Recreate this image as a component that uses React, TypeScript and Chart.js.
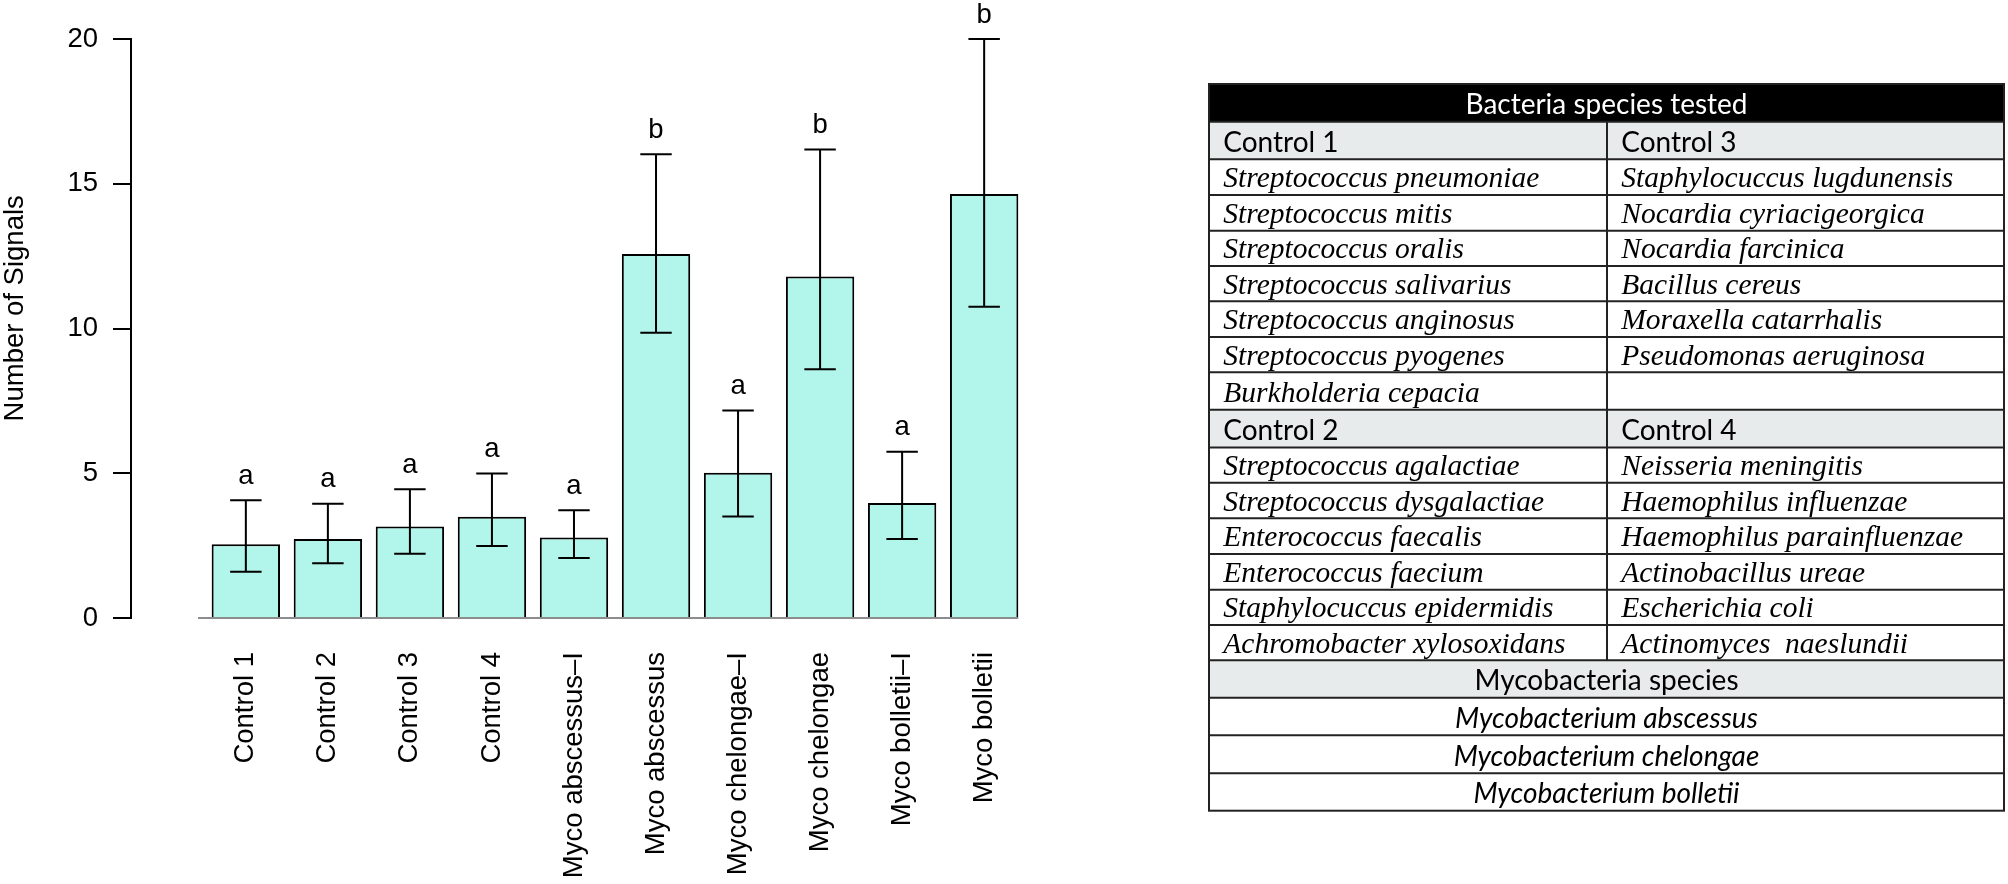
import React, { useEffect, useRef } from "react";
import { Chart, registerables } from "chart.js";

Chart.register(...registerables);

// ---------------- chart data ----------------
const categories = [
  "Control 1",
  "Control 2",
  "Control 3",
  "Control 4",
  "Myco abscessus–I",
  "Myco abscessus",
  "Myco chelongae–I",
  "Myco chelongae",
  "Myco bolletii–I",
  "Myco bolletii",
];
const meanSignals = [2.55, 2.73, 3.16, 3.5, 2.78, 12.57, 5.02, 11.8, 3.97, 14.65];
const errorLow = [1.6, 1.89, 2.22, 2.49, 2.07, 9.85, 3.51, 8.59, 2.73, 10.75];
const errorHigh = [4.07, 3.95, 4.45, 4.99, 3.72, 16.02, 7.17, 16.18, 5.74, 20.0];
const groupLetters = ["a", "a", "a", "a", "a", "b", "a", "b", "a", "b"];
const yTickValues = [0, 5, 10, 15, 20];
const yAxisTitle = "Number of Signals";

// ---------------- table data ----------------
const tableTitle = "Bacteria species tested";
const groupHeadsA = ["Control 1", "Control 3"];
const control1Species = [
  "Streptococcus pneumoniae",
  "Streptococcus mitis",
  "Streptococcus oralis",
  "Streptococcus salivarius",
  "Streptococcus anginosus",
  "Streptococcus pyogenes",
  "Burkholderia cepacia",
];
const control3Species = [
  "Staphylocuccus lugdunensis",
  "Nocardia cyriacigeorgica",
  "Nocardia farcinica",
  "Bacillus cereus",
  "Moraxella catarrhalis",
  "Pseudomonas aeruginosa",
  "",
];
const groupHeadsB = ["Control 2", "Control 4"];
const control2Species = [
  "Streptococcus agalactiae",
  "Streptococcus dysgalactiae",
  "Enterococcus faecalis",
  "Enterococcus faecium",
  "Staphylocuccus epidermidis",
  "Achromobacter xylosoxidans",
];
const control4Species = [
  "Neisseria meningitis",
  "Haemophilus influenzae",
  "Haemophilus parainfluenzae",
  "Actinobacillus ureae",
  "Escherichia coli",
  "Actinomyces  naeslundii",
];
const mycoHeader = "Mycobacteria species";
const mycoSpecies = [
  "Mycobacterium abscessus",
  "Mycobacterium chelongae",
  "Mycobacterium bolletii",
];

// ---------------- styling / layout ----------------
const FONT = '"Liberation Sans", Arial, Helvetica, sans-serif';
const FONT_SIZE = 27.5;
const BAR_FILL = "#b2f5eb";
const CANVAS_W = 1110;
const CANVAS_H = 884;

// R barplot geometry: bars of width 1 separated by space 0.2
const barCenters = categories.map((_, i) => 0.7 + 1.2 * i);
const X_MIN = -0.272;
const X_MAX = 12.472;

const annotatePlugin = {
  id: "annotate",
  afterDatasetsDraw(chart: any) {
    const { ctx } = chart;
    const x = chart.scales.x;
    const y = chart.scales.y;
    ctx.save();
    // baseline under the bars
    const y0 = y.getPixelForValue(0);
    ctx.strokeStyle = "#8c8c8c";
    ctx.lineWidth = 2;
    ctx.beginPath();
    ctx.moveTo(x.getPixelForValue(0), y0);
    ctx.lineTo(x.getPixelForValue(12), y0);
    ctx.stroke();
    // error bars + letters
    ctx.strokeStyle = "#000";
    ctx.fillStyle = "#000";
    ctx.lineWidth = 2;
    ctx.font = `${FONT_SIZE}px ${FONT}`;
    ctx.textAlign = "center";
    ctx.textBaseline = "alphabetic";
    barCenters.forEach((c, i) => {
      const px = x.getPixelForValue(c);
      const half = x.getPixelForValue(c + 0.23) - px;
      const top = y.getPixelForValue(errorHigh[i]);
      const bot = y.getPixelForValue(errorLow[i]);
      ctx.beginPath();
      ctx.moveTo(px, top);
      ctx.lineTo(px, bot);
      ctx.moveTo(px - half, top);
      ctx.lineTo(px + half, top);
      ctx.moveTo(px - half, bot);
      ctx.lineTo(px + half, bot);
      ctx.stroke();
      ctx.fillText(groupLetters[i], px, top - 16.5);
    });
    ctx.restore();
  },
  afterDraw(chart: any) {
    const { ctx } = chart;
    ctx.save();
    ctx.translate(23.3, 308.3);
    ctx.rotate(-Math.PI / 2);
    ctx.font = `${FONT_SIZE}px ${FONT}`;
    ctx.fillStyle = "#000";
    ctx.textAlign = "center";
    ctx.textBaseline = "alphabetic";
    ctx.fillText(yAxisTitle, 0, 0);
    ctx.restore();
  },
};

function BarChart() {
  const ref = useRef<HTMLCanvasElement | null>(null);
  useEffect(() => {
    if (!ref.current) return;
    const chart = new Chart(ref.current, {
      type: "bar",
      data: {
        datasets: [
          {
            data: barCenters.map((c, i) => ({ x: c, y: meanSignals[i] })),
            backgroundColor: BAR_FILL,
            borderColor: "#000",
            borderWidth: 2,
            borderSkipped: "start",
            categoryPercentage: 1,
            barPercentage: 1 / 1.2,
          } as any,
        ],
      },
      options: {
        responsive: false,
        animation: false,
        events: [],
        layout: { padding: { top: 39, right: CANVAS_W - 1099, bottom: 0, left: 0 } },
        plugins: { legend: { display: false }, tooltip: { enabled: false }, title: { display: false } },
        scales: {
          x: {
            type: "linear",
            min: X_MIN,
            max: X_MAX,
            afterBuildTicks: (s: any) => {
              s.ticks = barCenters.map((v) => ({ value: v }));
            },
            afterFit: (s: any) => {
              s.height = CANVAS_H - 618;
            },
            ticks: {
              autoSkip: false,
              minRotation: 90,
              maxRotation: 90,
              padding: 34,
              color: "#000",
              font: { family: FONT, size: FONT_SIZE },
              callback: (_v: any, i: number) => categories[i],
            },
            grid: { display: false, drawTicks: false },
            border: { display: false },
          },
          y: {
            min: 0,
            max: 20,
            afterBuildTicks: (s: any) => {
              s.ticks = yTickValues.map((v) => ({ value: v }));
            },
            afterFit: (s: any) => {
              s.width = 131;
            },
            ticks: {
              padding: 15,
              color: "#000",
              font: { family: FONT, size: FONT_SIZE },
            },
            grid: {
              drawOnChartArea: false,
              drawTicks: true,
              tickLength: 18,
              color: "#000",
              lineWidth: 2,
            },
            border: { display: true, color: "#000", width: 2 },
          },
        },
      } as any,
      plugins: [annotatePlugin],
    });
    return () => chart.destroy();
  }, []);
  return (
    <canvas
      ref={ref}
      width={CANVAS_W}
      height={CANVAS_H}
      style={{ position: "absolute", left: 0, top: 0, width: CANVAS_W, height: CANVAS_H }}
    />
  );
}

// ---------------- table ----------------
const ROW_LINES = [
  84, 121.7, 159.3, 195, 230.7, 266, 301.3, 337, 372.3, 409.7, 447.5, 482.7, 518.3, 554, 589.7,
  625, 660.3, 697.7, 735.3, 773.3, 810.7,
];
const T_LEFT = 1209;
const T_RIGHT = 2004;
const T_DIV = 1607;
const SANS = "Lato, 'Open Sans', sans-serif";
const SERIF = "'Liberation Serif', 'Times New Roman', serif";
const GRAY = "#e8ebeb";

type Row = { kind: string; left?: string; right?: string; text?: string };

function SpeciesTable() {
  const rows: Row[] = [
    { kind: "title", text: tableTitle },
    { kind: "group", left: groupHeadsA[0], right: groupHeadsA[1] },
    ...control1Species.map((s, k) => ({ kind: "pair", left: s, right: control3Species[k] || "" })),
    { kind: "group", left: groupHeadsB[0], right: groupHeadsB[1] },
    ...control2Species.map((s, k) => ({ kind: "pair", left: s, right: control4Species[k] || "" })),
    { kind: "chead", text: mycoHeader },
    ...mycoSpecies.map((s) => ({ kind: "citem", text: s })),
  ];
  const mid = (T_LEFT + T_RIGHT) / 2;
  const divEnd = ROW_LINES[rows.findIndex((r) => r.kind === "chead")];
  return (
    <svg
      width={2008}
      height={884}
      style={{ position: "absolute", left: 0, top: 0 }}
      xmlns="http://www.w3.org/2000/svg"
    >
      {rows.map((r, i) => {
        const top = ROW_LINES[i];
        const bot = ROW_LINES[i + 1];
        const base = bot - 7.8;
        const els: any[] = [];
        if (r.kind === "title" || r.kind === "group" || r.kind === "chead") {
          els.push(
            <rect
              key={`bg${i}`}
              x={T_LEFT}
              y={top}
              width={T_RIGHT - T_LEFT}
              height={bot - top}
              fill={r.kind === "title" ? "#000" : GRAY}
            />
          );
        }
        if (r.kind === "title" || r.kind === "chead") {
          els.push(
            <text
              key={`t${i}`}
              x={mid}
              y={base}
              textAnchor="middle"
              fontFamily={SANS}
              fontSize={28}
              fill={r.kind === "title" ? "#fff" : "#000"}
            >
              {r.text}
            </text>
          );
        } else if (r.kind === "citem") {
          els.push(
            <text
              key={`t${i}`}
              x={mid}
              y={base}
              textAnchor="middle"
              fontFamily={SANS}
              fontStyle="italic"
              fontSize={28}
              fill="#000"
            >
              {r.text}
            </text>
          );
        } else {
          const italic = r.kind === "pair";
          const props = italic
            ? { fontFamily: SERIF, fontStyle: "italic", fontSize: 29.5 }
            : { fontFamily: SANS, fontSize: 28 };
          els.push(
            <text key={`l${i}`} x={T_LEFT + 14.3} y={base} fill="#000" {...props} style={{ whiteSpace: "pre" }}>
              {r.left}
            </text>
          );
          els.push(
            <text key={`r${i}`} x={T_DIV + 14.3} y={base} fill="#000" {...props} style={{ whiteSpace: "pre" }}>
              {r.right}
            </text>
          );
        }
        return <g key={i}>{els}</g>;
      })}
      {ROW_LINES.slice(1, -1).map((yv, i) => (
        <line key={`h${i}`} x1={T_LEFT} x2={T_RIGHT} y1={yv} y2={yv} stroke="#222" strokeWidth={2} />
      ))}
      <line x1={T_DIV} x2={T_DIV} y1={ROW_LINES[1]} y2={divEnd} stroke="#222" strokeWidth={2} />
      <rect
        x={T_LEFT}
        y={ROW_LINES[0]}
        width={T_RIGHT - T_LEFT}
        height={ROW_LINES[ROW_LINES.length - 1] - ROW_LINES[0]}
        fill="none"
        stroke="#222"
        strokeWidth={2}
      />
    </svg>
  );
}

export default function App() {
  return (
    <div
      style={{
        position: "absolute",
        left: 0,
        top: 0,
        width: 2008,
        height: 884,
        background: "#fff",
        overflow: "hidden",
      }}
    >
      <BarChart />
      <SpeciesTable />
    </div>
  );
}
